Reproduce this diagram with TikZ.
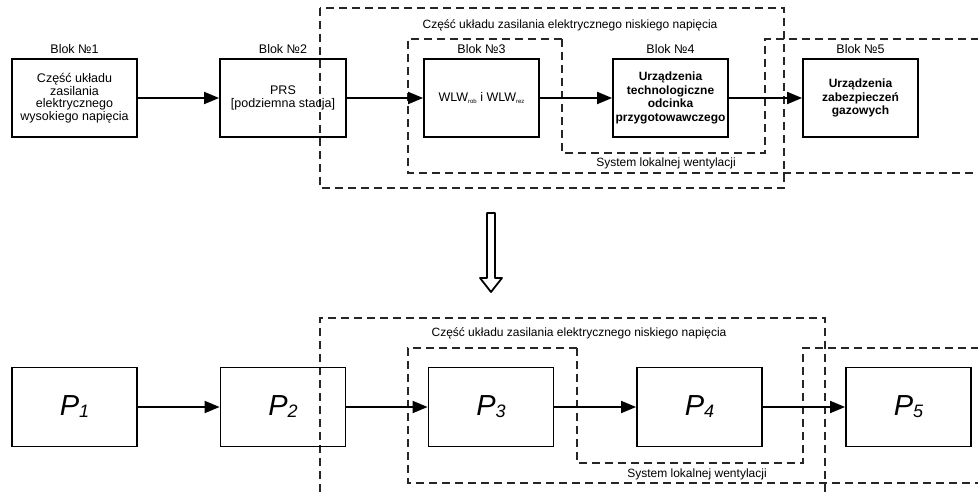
\documentclass[tikz,border=0pt]{standalone}
\usepackage{fontspec}
\setmainfont{Liberation Sans}
\usetikzlibrary{arrows.meta}

\tikzset{
  blockbox/.style={draw, line width=1.8pt, minimum height=78pt, inner sep=0pt,
    align=center, font=\fontsize{12.5}{12.5}\selectfont},
  boldbox/.style={blockbox, font=\fontsize{12}{13.5}\selectfont\bfseries},
  pbox/.style={draw, line width=1.8pt, minimum width=125pt, minimum height=79pt, inner sep=0pt},
  zone/.style={draw=black!85, line width=1.3pt, dash pattern=on 8pt off 5pt},
  flow/.style={line width=1.8pt, -{Triangle[length=15pt,width=12pt]}},
  blabel/.style={font=\fontsize{12.5}{12.5}\selectfont},
  zlabel/.style={font=\fontsize{12}{12}\selectfont},
}
\newcommand{\plabel}[1]{{\fontsize{29}{29}\selectfont\itshape P\raisebox{-2pt}{\fontsize{18}{18}\selectfont #1}}}
\newcommand{\subsm}[1]{\raisebox{-2.5pt}{\fontsize{6}{6}\selectfont #1}}

\begin{document}
\begin{tikzpicture}[x=1pt,y=-1pt]
\useasboundingbox (0,0) rectangle (978,497);
\begin{scope}
\clip (0,0) rectangle (978,497);

% ---------- upper scheme: descriptive blocks ----------
\draw[zone] (320,8) rectangle (784,188);
\draw[zone] (562,39) -- (408,39) -- (408,173) -- (990,173);
\draw[zone] (562,39) -- (562,153) -- (765,153) -- (765,39) -- (990,39);
\node[zlabel] (lvtop) at (570,25) {Część układu zasilania elektrycznego niskiego napięcia};
\node[zlabel] (vtop) at (666,163) {System lokalnej wentylacji};

\node[blockbox, minimum width=125pt] (b1) at (74.5,98) {Część układu\\zasilania\\elektrycznego\\wysokiego napięcia};
\node[blockbox, minimum width=126pt, font=\fontsize{12.5}{13.5}\selectfont] (b2) at (283,98) {PRS\\{}[podziemna stacja]};
\node[blockbox, minimum width=115pt] (b3) at (481.5,98) {WLW\subsm{rob} i WLW\subsm{rez}};
\node[boldbox, minimum width=115pt] (b4) at (670.5,98) {Urządzenia\\technologiczne\\odcinka\\przygotowawczego};
\node[boldbox, minimum width=115pt] (b5) at (860.5,98) {Urządzenia\\zabezpieczeń\\gazowych};

\node[blabel, above=1pt] (t1) at (b1.north) {Blok №1};
\node[blabel, above=1pt] (t2) at (b2.north) {Blok №2};
\node[blabel, above=1pt] (t3) at (b3.north) {Blok №3};
\node[blabel, above=1pt] (t4) at (b4.north) {Blok №4};
\node[blabel, above=1pt] (t5) at (b5.north) {Blok №5};

\draw[flow] (b1) -- (b2);
\draw[flow] (b2) -- (b3);
\draw[flow] (b3) -- (b4);
\draw[flow] (b4) -- (b5);

% ---------- transition arrow ----------
\draw[line width=1.8pt, line join=round, fill=white]
  (487,213) -- (495,213) -- (495,278) -- (502,278) -- (491,292)
  -- (480,278) -- (487,278) -- cycle;

% ---------- lower scheme: abstract blocks ----------
\draw[zone] (320,505) -- (320,318) -- (825,318) -- (825,505);
\draw[zone] (577,348) -- (408,348) -- (408,483) -- (990,483);
\draw[zone] (577,348) -- (577,463) -- (803,463) -- (803,348) -- (990,348);
\node[zlabel] (lvbot) at (579,333) {Część układu zasilania elektrycznego niskiego napięcia};
\node[zlabel] (vbot) at (697,474) {System lokalnej wentylacji};

\node[pbox] (p1) at (74.5,407) {\plabel{1}};
\node[pbox] (p2) at (283,407) {\plabel{2}};
\node[pbox] (p3) at (491,407) {\plabel{3}};
\node[pbox] (p4) at (699.5,407) {\plabel{4}};
\node[pbox] (p5) at (908.5,407) {\plabel{5}};

\draw[flow] (p1) -- (p2);
\draw[flow] (p2) -- (p3);
\draw[flow] (p3) -- (p4);
\draw[flow] (p4) -- (p5);
\end{scope}
\end{tikzpicture}
\end{document}
